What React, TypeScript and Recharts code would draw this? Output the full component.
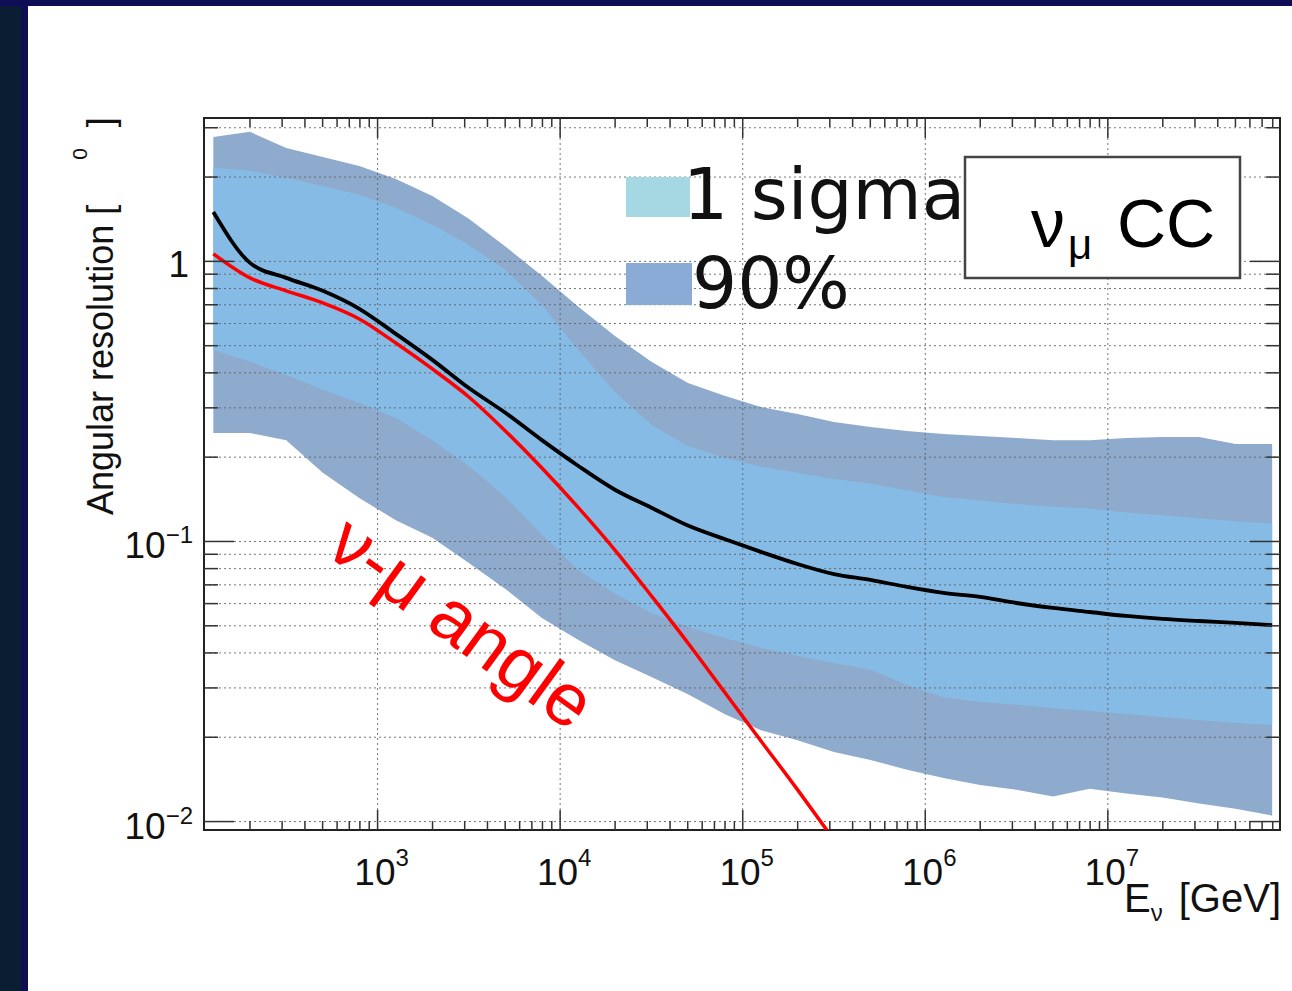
import React from "react";
import { Area, ComposedChart, Line, ReferenceArea, ReferenceLine, XAxis, YAxis } from "recharts";

// neutrino energy, bin centres [GeV]
const energy = [
  126, 200, 316, 501, 794, 1259, 1995, 3162, 5012, 7943, 12589, 19953, 31623, 50119, 79433,
  125893, 199526, 316228, 501187, 794328, 1258925, 1995262, 3162278, 5011872, 7943282,
  12589254, 19952623, 31622777, 50118723, 79432823,
];
// 90% band
const p90Low = [
  0.244, 0.244, 0.23, 0.176, 0.143, 0.119, 0.103, 0.0838, 0.0677, 0.0533, 0.0445, 0.0377, 0.0328, 0.0285, 0.0242,
  0.0212, 0.0195, 0.0177, 0.0166, 0.0153, 0.0143, 0.0135, 0.013, 0.0123, 0.0131, 0.0126, 0.0122, 0.0116, 0.0111, 0.0105,
];
const p90High = [
  2.78, 2.9, 2.54, 2.36, 2.19, 1.97, 1.71, 1.42, 1.13, 0.888, 0.688, 0.542, 0.438, 0.368, 0.331,
  0.302, 0.285, 0.267, 0.256, 0.248, 0.242, 0.238, 0.234, 0.23, 0.23, 0.234, 0.236, 0.236, 0.223, 0.223,
];
// 1 sigma band
const sigmaLow = [
  0.483, 0.438, 0.393, 0.348, 0.312, 0.276, 0.23, 0.186, 0.144, 0.106, 0.0791, 0.065, 0.0555, 0.0495, 0.0452,
  0.0417, 0.039, 0.0368, 0.0348, 0.0307, 0.0278, 0.0267, 0.0261, 0.0254, 0.0248, 0.0242, 0.0236, 0.023, 0.0225, 0.0221,
];
const sigmaHigh = [
  2.158, 2.105, 1.987, 1.86, 1.728, 1.553, 1.35, 1.145, 0.932, 0.699, 0.483, 0.342, 0.261, 0.219, 0.199,
  0.185, 0.176, 0.167, 0.161, 0.152, 0.144, 0.14, 0.136, 0.133, 0.131, 0.127, 0.124, 0.121, 0.118, 0.116,
];
// median angular resolution (black)
const median = [
  1.5, 0.988, 0.873, 0.785, 0.677, 0.551, 0.445, 0.353, 0.288, 0.23, 0.186, 0.153, 0.132, 0.114, 0.102,
  0.0918, 0.0831, 0.0765, 0.0729, 0.0688, 0.0655, 0.0634, 0.0603, 0.0579, 0.056, 0.0542, 0.0529, 0.052, 0.0512, 0.0503,
];
// nu-mu kinematic angle (red)
const nuMuAngle = [
  1.064, 0.873, 0.785, 0.711, 0.623, 0.511, 0.413, 0.328, 0.248, 0.183, 0.132, 0.0932, 0.0639, 0.0434, 0.029,
  0.0194, 0.013, 0.0086,
];

const yTicks = [
  0.01, 0.02, 0.03, 0.04, 0.05, 0.06, 0.07, 0.08, 0.09,
  0.1, 0.2, 0.3, 0.4, 0.5, 0.6, 0.7, 0.8, 0.9, 1, 2, 3,
];
const xDecades = [100, 1e3, 1e4, 1e5, 1e6, 1e7];
const xMantissas = [1, 2, 3, 4, 5, 6, 7, 8, 9];
const xGrid = [1e3, 1e4, 1e5, 1e6, 1e7];

const X_DOMAIN = [112, 8.77e7];
const Y_DOMAIN = [0.00933, 3.25];
const PLOT = { left: 204, right: 1280, top: 118, bottom: 830 };
const FONT = "'Liberation Sans', Arial, Helvetica, sans-serif";

const data = energy.map((E, i) => ({
  E,
  band90: [p90Low[i], p90High[i]],
  band1s: [sigmaLow[i], sigmaHigh[i]],
  median: median[i],
  angle: nuMuAngle[i] ?? null,
}));

const xTicks = xDecades
  .flatMap((d) => xMantissas.map((m) => m * d))
  .filter((v) => v > X_DOMAIN[0] && v < X_DOMAIN[1]);

function isDecade(v: number) {
  const l = Math.log10(v);
  return Math.abs(l - Math.round(l)) < 1e-6;
}

function XTick(props: any) {
  const { x, payload } = props;
  const v = payload.value;
  const major = isDecade(v);
  const len = major ? 20 : 9;
  const exp = Math.round(Math.log10(v));
  return (
    <g>
      <line x1={x} x2={x} y1={PLOT.bottom} y2={PLOT.bottom - len} stroke="#333" strokeWidth={1.5} />
      <line x1={x} x2={x} y1={PLOT.top} y2={PLOT.top + len} stroke="#333" strokeWidth={1.5} />
      {major && (
        <text x={x + 4} y={885} textAnchor="middle" fontSize={37} fontFamily={FONT} fill="#111">
          10<tspan dy={-19} fontSize={24}>{exp}</tspan>
        </text>
      )}
    </g>
  );
}

function YTick(props: any) {
  const { y, payload } = props;
  const v = payload.value;
  const major = isDecade(v);
  const len = major ? 30 : 14;
  const exp = Math.round(Math.log10(v));
  return (
    <g>
      <line x1={PLOT.left} x2={PLOT.left + len} y1={y} y2={y} stroke="#333" strokeWidth={1.5} />
      <line x1={PLOT.right} x2={PLOT.right - len} y1={y} y2={y} stroke="#333" strokeWidth={1.5} />
      {major && exp === 0 && (
        <text x={189} y={y + 16} textAnchor="end" fontSize={37} fontFamily={FONT} fill="#111">1</text>
      )}
      {major && exp < 0 && (
        <text x={193} y={y + 17} textAnchor="end" fontSize={37} fontFamily={FONT} fill="#111">
          10<tspan dy={-15} fontSize={24}>{"\u2212" + Math.abs(exp)}</tspan>
        </text>
      )}
    </g>
  );
}

export default function App() {
  return (
    <div style={{ position: "absolute", left: 0, top: 0, width: 1292, height: 991, background: "#0b1d33", overflow: "hidden" }}>
      <div style={{ position: "absolute", left: 0, top: 0, width: 1292, height: 6, background: "#0e0d55" }} />
      <div style={{ position: "absolute", left: 21, top: 0, width: 7, height: 991, background: "#0e0d55" }} />
      <div style={{ position: "absolute", left: 28, top: 6, width: 1264, height: 985, background: "#ffffff" }} />
      <div style={{ position: "absolute", left: 0, top: 0 }}>
        <ComposedChart width={1292} height={991} data={data} margin={{ top: 118, right: 12, bottom: 101, left: 144 }}>
          <XAxis
            dataKey="E"
            type="number"
            scale="log"
            domain={X_DOMAIN}
            allowDataOverflow
            ticks={xTicks}
            interval={0}
            tick={<XTick />}
            tickSize={0}
            tickMargin={0}
            tickLine={false}
            axisLine={false}
            height={60}
          />
          <YAxis
            type="number"
            scale="log"
            domain={Y_DOMAIN}
            allowDataOverflow
            ticks={yTicks}
            interval={0}
            tick={<YTick />}
            tickSize={0}
            tickMargin={0}
            tickLine={false}
            axisLine={false}
            width={60}
          />
          <Area dataKey="band90" type="linear" stroke="none" fill="#8eaacc" fillOpacity={1} isAnimationActive={false} />
          <Area dataKey="band1s" type="linear" stroke="none" fill="#86bbe6" fillOpacity={1} isAnimationActive={false} />
          {yTicks.map((v) => (
            <ReferenceLine key={"gy" + v} y={v} stroke="#5e5e5e" strokeWidth={1} strokeDasharray="2 3" strokeOpacity={0.85} />
          ))}
          {xGrid.map((v) => (
            <ReferenceLine key={"gx" + v} x={v} stroke="#5e5e5e" strokeWidth={1} strokeDasharray="2 3" strokeOpacity={0.85} />
          ))}
          <Line dataKey="median" type="monotone" stroke="#000000" strokeWidth={3.8} dot={false} isAnimationActive={false} />
          <Line dataKey="angle" type="monotone" stroke="#ff0000" strokeWidth={3.5} dot={false} isAnimationActive={false} />
          <ReferenceArea
            x1={X_DOMAIN[0]}
            x2={X_DOMAIN[1]}
            y1={Y_DOMAIN[0]}
            y2={Y_DOMAIN[1]}
            fill="none"
            fillOpacity={0}
            stroke="#222"
            strokeWidth={2}
            ifOverflow="visible"
          />
        </ComposedChart>
      </div>
      <svg width={1292} height={991} style={{ position: "absolute", left: 0, top: 0, pointerEvents: "none" }}>
        {/* legend */}
        <rect x={626} y={177} width={64} height={40} fill="#a6d8e4" />
        <text x={683} y={219} fontSize={71} fontFamily="'DejaVu Sans', sans-serif" fill="#111">1 sigma</text>
        <rect x={626} y={263} width={66} height={42} fill="#8aabd6" />
        <text x={692} y={308} fontSize={71} fontFamily="'DejaVu Sans', sans-serif" fill="#111">90%</text>
        {/* channel box */}
        <rect x={965} y={157} width={275} height={121} fill="#ffffff" stroke="#444" strokeWidth={2.5} />
        <text x={1031} y={247} fontSize={68} fontFamily={FONT} fill="#000">ν</text>
        <text x={1068} y={259} fontSize={42} fontFamily={FONT} fill="#000">μ</text>
        <text x={1117} y={247} fontSize={68} fontFamily={FONT} fill="#000">CC</text>
        {/* axis titles */}
        <text transform="translate(113,515) rotate(-90)" fontSize={36} fontFamily={FONT} fill="#111">
          Angular resolution [<tspan dx={45} dy={-26} fontSize={21}>0</tspan>
          <tspan dx={21} dy={26}>]</tspan>
        </text>
        <text x={1281} y={912} textAnchor="end" fontSize={40} fontFamily={FONT} fill="#111">
          E<tspan dy={9} fontSize={24}>ν</tspan>
          <tspan dy={-9} dx={16}>[GeV]</tspan>
        </text>
        {/* annotation */}
        <text
          transform="translate(462,622) rotate(36)"
          textAnchor="middle"
          dominantBaseline="central"
          fontSize={74}
          fontFamily={FONT}
          fill="#ff0000"
        >
          ν-μ angle
        </text>
      </svg>
    </div>
  );
}
